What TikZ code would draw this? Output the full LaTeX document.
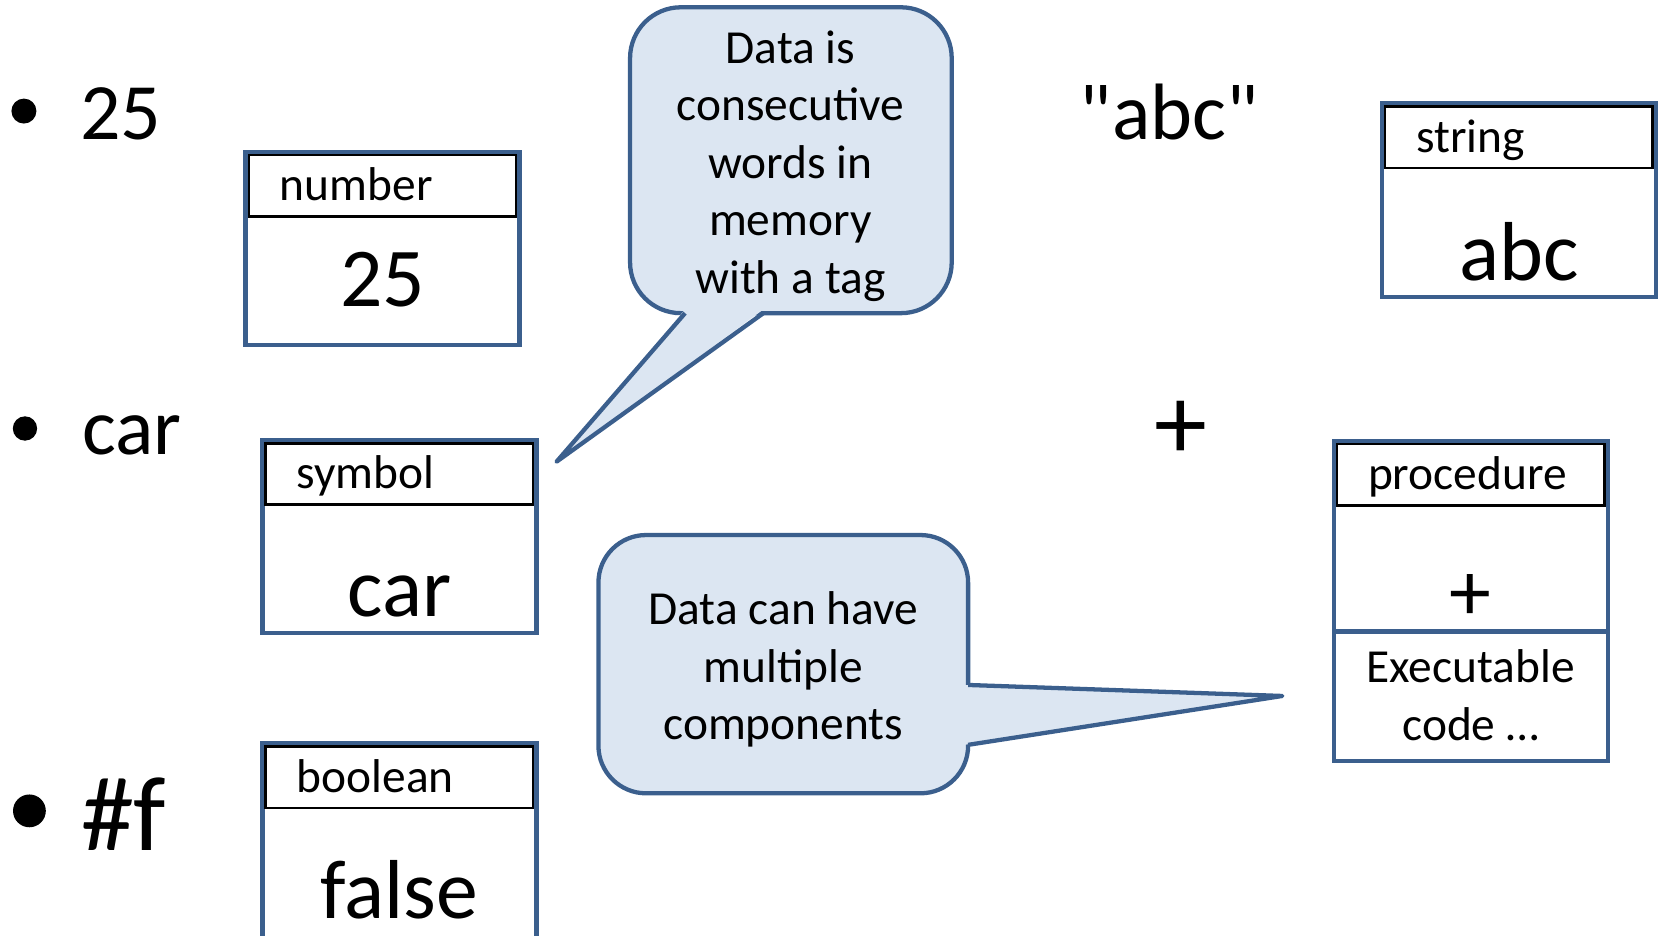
\documentclass[tikz,border=0pt]{standalone}
\usepackage{fontspec}
\setmainfont{Carlito}[Ligatures=TeXOff]
\usetikzlibrary{positioning, calc}
\definecolor{noteblue}{HTML}{3B5F8D}
\definecolor{notefill}{HTML}{DCE6F2}

\begin{document}
\begin{tikzpicture}[
    bulletdot/.style={circle, fill=black, inner sep=0pt},
    itemtext/.style={font=\fontsize{21.5}{26}\selectfont, inner sep=0pt, anchor=base west},
    bigitem/.style={font=\fontsize{28.5}{34}\selectfont, inner sep=0pt},
    valbox/.style={draw=noteblue, line width=1.15pt, minimum width=2.59cm,
                   anchor=north west, inner sep=0pt, outer sep=0pt},
    tagbox/.style={draw=black, line width=0.7pt, minimum width=2.59cm-1.8pt,
                   minimum height=0.61cm-0.9pt, text width=1.94cm, align=left,
                   text height=0.37cm, text depth=0.09cm, inner xsep=0.29cm, inner ysep=0pt,
                   outer sep=0pt, font=\fontsize{12.75}{15.45}\selectfont},
    valtext/.style={font=\fontsize{22.5}{27}\selectfont, inner sep=0pt},
    notebox/.style={draw=noteblue, fill=notefill, line width=1.15pt,
                    rounded corners=0.48cm, inner sep=0pt, outer sep=0pt},
    notetext/.style={align=center, inner sep=0pt, font=\fontsize{12.75}{15.45}\selectfont},
    notetail/.style={draw=noteblue, line width=1.15pt, line join=round},
  ]

  \useasboundingbox (0,0) rectangle (15.68,8.84);
  \clip (0,0) rectangle (15.68,8.84);

  % Plain values
  \node[bulletdot, minimum size=0.236cm] (dot25) at (0.226,7.79) {};
  \node[itemtext] (item25) at (0.75,7.52) {25};
  \node[bulletdot, minimum size=0.23cm] (dotcar) at (0.236,4.79) {};
  \node[itemtext] (itemcar) at (0.77,4.54) {car};
  \node[bulletdot, minimum size=0.31cm] (dotf) at (0.278,1.176) {};
  \node[bigitem, anchor=base west] (itemf) at (0.76,0.805) {\#f};
  \node[itemtext] (itemabc) at (10.20,7.52) {"abc"};
  \node[bigitem] (itemplus) at (11.16,4.77) {+};

  % Number
  \node[valbox, minimum height=1.826cm] (numbox) at (2.32,7.406) {};
  \node[tagbox, below=0.9pt of numbox.north] (numtag) {number};
  \node[valtext, anchor=base] (numval) at ($(numbox.north)+(0,-1.466)$) {25};

  % Symbol
  \node[valbox, minimum height=1.826cm] (symbox) at (2.48,4.68) {};
  \node[tagbox, below=0.9pt of symbox.north] (symtag) {symbol};
  \node[valtext, anchor=base] (symval) at ($(symbox.north)+(0,-1.669)$) {car};

  % Boolean (runs off the bottom edge)
  \node[valbox, minimum height=2.2cm] (boolbox) at (2.48,1.815) {};
  \node[tagbox, below=0.9pt of boolbox.north] (booltag) {boolean};
  \node[valtext, anchor=base] (boolval) at ($(boolbox.north)+(0,-1.66)$) {false};

  % String
  \node[valbox, minimum height=1.833cm] (strbox) at (13.06,7.863) {};
  \node[tagbox, below=0.9pt of strbox.north] (strtag) {string};
  \node[valtext, anchor=base] (strval) at ($(strbox.north)+(0,-1.67)$) {abc};

  % Procedure
  \node[valbox, minimum height=3.025cm] (procbox) at (12.605,4.675) {};
  \node[tagbox, below=0.9pt of procbox.north] (proctag) {procedure};
  \node[valtext] (procval) at ($(procbox.north)+(0,-1.48)$) {+};
  \draw[noteblue, line width=1.15pt] ([yshift=-1.805cm]procbox.north west) -- ([yshift=-1.805cm]procbox.north east);
  \node[notetext] (proccode) at (13.90,2.267) {Executable\\code …};

  % Callout: words in memory
  \node[notebox, minimum width=3.04cm, minimum height=2.891cm] (wordsnote) at (7.475,7.3255) {};
  \coordinate (wordstip) at (5.26,4.476);
  \fill[notefill] ([xshift=-1.0cm,yshift=1pt]wordsnote.south) -- (wordstip) -- ([xshift=-0.26cm,yshift=1pt]wordsnote.south) -- cycle;
  \draw[notetail] ([xshift=-1.0cm]wordsnote.south) -- (wordstip) -- ([xshift=-0.26cm]wordsnote.south);
  \node[notetext] (wordstext) at (7.47,7.27) {Data is\\consecutive\\words in\\memory\\with a tag};

  % Callout: components
  \node[notebox, rounded corners=0.45cm, minimum width=3.494cm, minimum height=2.441cm] (partsnote) at (7.403,2.5625) {};
  \coordinate (partstip) at (12.12,2.262);
  \fill[notefill] ([xshift=-1pt,yshift=-0.1965cm]partsnote.east) -- (partstip) -- ([xshift=-1pt,yshift=-0.7625cm]partsnote.east) -- cycle;
  \draw[notetail] ([yshift=-0.1965cm]partsnote.east) -- (partstip) -- ([yshift=-0.7625cm]partsnote.east);
  \node[notetext] (partstext) at (7.403,2.513) {Data can have\\multiple\\components};

\end{tikzpicture}
\end{document}
